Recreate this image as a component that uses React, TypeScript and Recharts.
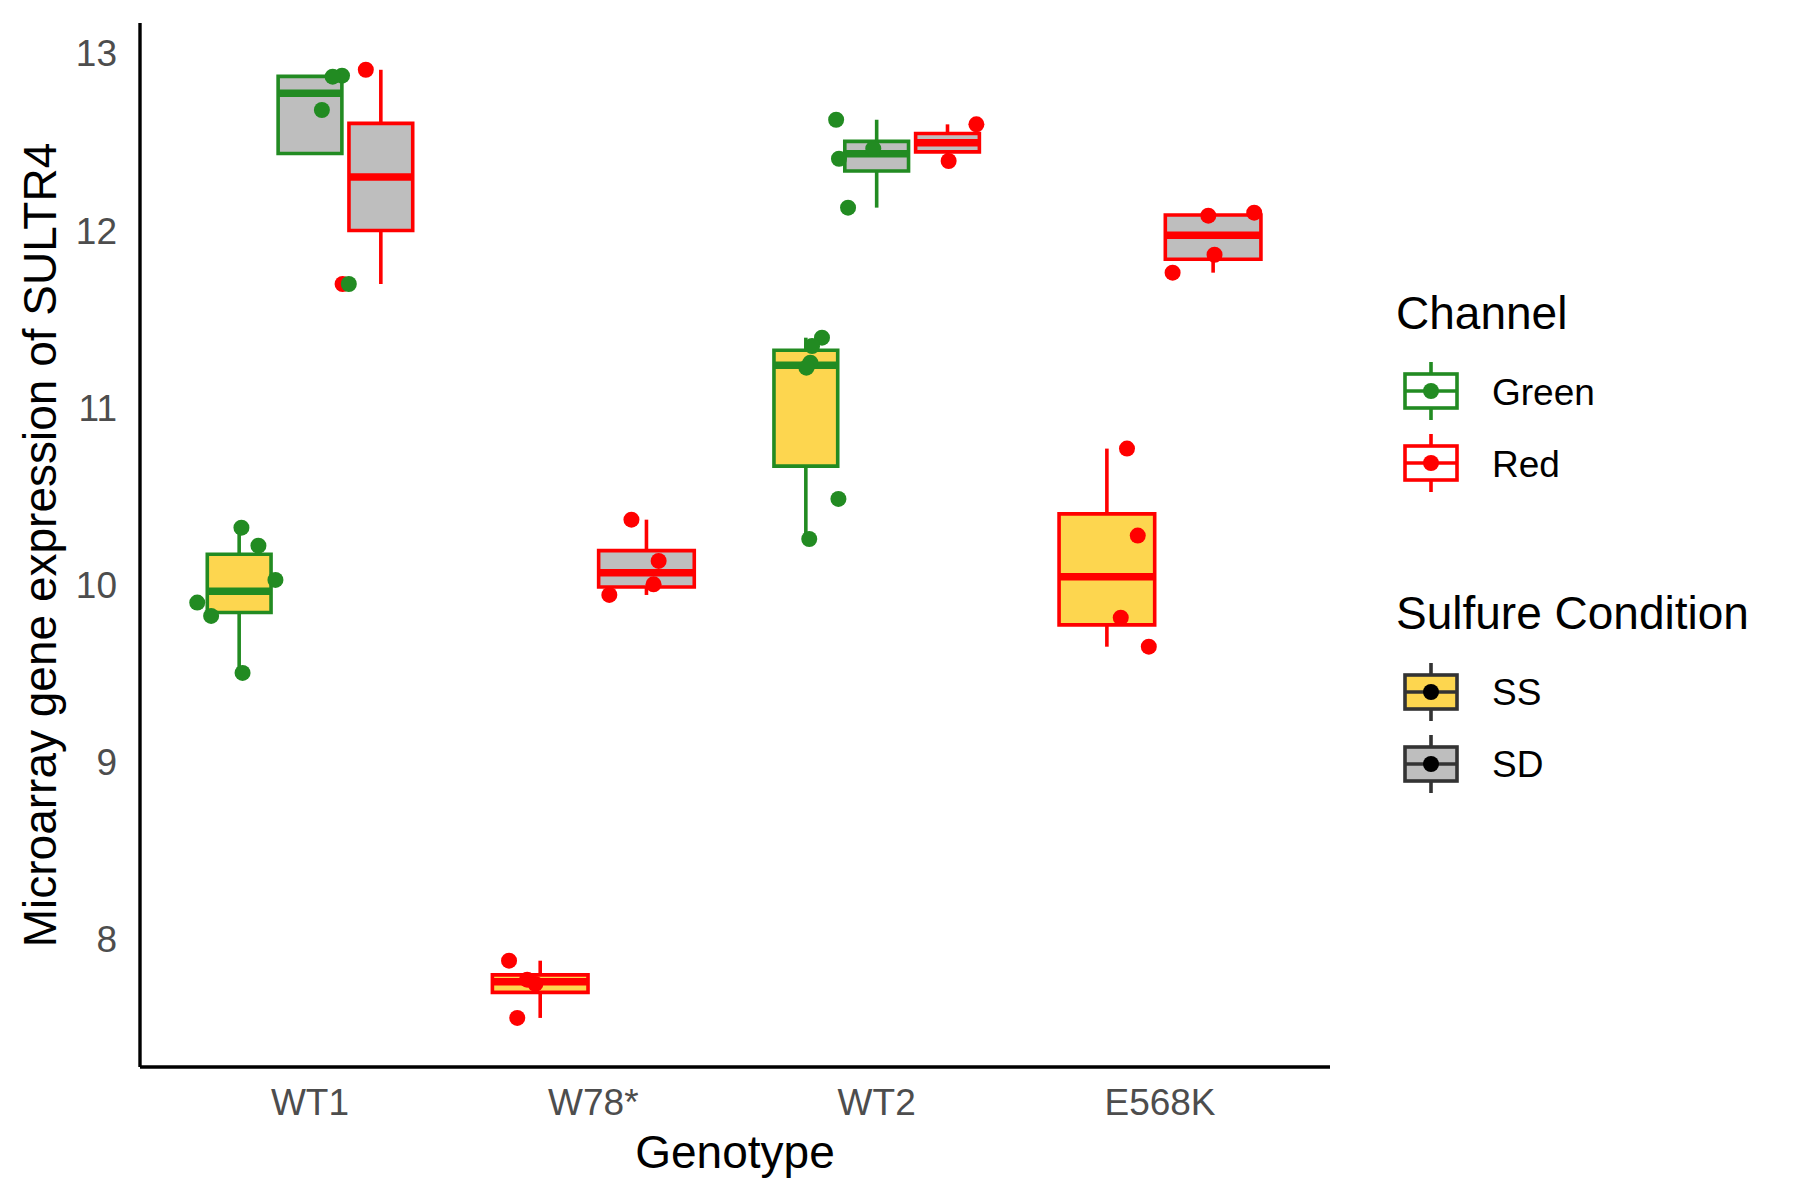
import {
  ComposedChart,
  XAxis,
  YAxis,
  Scatter,
  ReferenceArea,
  ReferenceLine,
  Legend,
} from "recharts";

const FONT = "'Liberation Sans', Arial, sans-serif";

const GENOTYPES = ["WT1", "W78*", "WT2", "E568K"];
const Y_TICKS = [8, 9, 10, 11, 12, 13];

const CHANNEL_COLORS: Record<string, string> = { Green: "#228B22", Red: "#FF0000" };
const CONDITION_FILLS: Record<string, string> = { SS: "#FDD64F", SD: "#BEBEBE" };

// expression values of each box
const wt1SSGreen = [10.323, 10.221, 10.028, 9.9, 9.825, 9.503];
const wt1SDGreen = [12.874, 12.868, 12.68, 11.698];
const wt1SDRed = [12.907, 11.698];
const w78SSRed = [7.879, 7.772, 7.748, 7.556];
const w78SDRed = [10.368, 10.135, 10.003, 9.943];
const wt2SSGreen = [11.395, 11.348, 11.254, 11.226, 10.485, 10.259];
const wt2SDGreen = [12.625, 12.462, 12.405, 12.129];
const wt2SDRed = [12.599, 12.392];
const e568kSSRed = [10.769, 10.278, 9.815, 9.651];
const e568kSDRed = [12.1005, 12.0835, 11.863, 11.762];

// horizontal jitter of the same points (in category units)
const wt1SSGreenJitter = [0.008, 0.068, 0.128, -0.148, -0.099, 0.012];
const wt1SDGreenJitter = [0.113, 0.08, 0.042, 0.137];
const wt1SDRedJitter = [-0.053, -0.135];
const w78SSRedJitter = [-0.11, -0.046, -0.017, -0.081];
const w78SDRedJitter = [-0.053, 0.043, 0.025, -0.131];
const wt2SSGreenJitter = [0.057, 0.022, 0.016, 0.002, 0.115, 0.012];
const wt2SDGreenJitter = [-0.143, -0.012, -0.133, -0.101];
const wt2SDRedJitter = [0.102, 0.004];
const e568kSSRedJitter = [0.071, 0.109, 0.049, 0.148];
const e568kSDRedJitter = [0.145, -0.017, 0.005, -0.143];

const boxes = [
  { genotype: "WT1", condition: "SS", channel: "Green", values: wt1SSGreen, jitter: wt1SSGreenJitter },
  { genotype: "WT1", condition: "SD", channel: "Green", values: wt1SDGreen, jitter: wt1SDGreenJitter },
  { genotype: "WT1", condition: "SD", channel: "Red", values: wt1SDRed, jitter: wt1SDRedJitter },
  { genotype: "W78*", condition: "SS", channel: "Red", values: w78SSRed, jitter: w78SSRedJitter },
  { genotype: "W78*", condition: "SD", channel: "Red", values: w78SDRed, jitter: w78SDRedJitter },
  { genotype: "WT2", condition: "SS", channel: "Green", values: wt2SSGreen, jitter: wt2SSGreenJitter },
  { genotype: "WT2", condition: "SD", channel: "Green", values: wt2SDGreen, jitter: wt2SDGreenJitter },
  { genotype: "WT2", condition: "SD", channel: "Red", values: wt2SDRed, jitter: wt2SDRedJitter },
  { genotype: "E568K", condition: "SS", channel: "Red", values: e568kSSRed, jitter: e568kSSRedJitter },
  { genotype: "E568K", condition: "SD", channel: "Red", values: e568kSDRed, jitter: e568kSDRedJitter },
];

// type 7 quantile, as R does it
function quantile(sorted: number[], p: number) {
  const h = (sorted.length - 1) * p;
  const lo = Math.floor(h);
  const hi = Math.ceil(h);
  return sorted[lo] + (h - lo) * (sorted[hi] - sorted[lo]);
}

function boxStats(values: number[]) {
  const s = [...values].sort((a, b) => a - b);
  const q1 = quantile(s, 0.25);
  const med = quantile(s, 0.5);
  const q3 = quantile(s, 0.75);
  const iqr = q3 - q1;
  const lower = Math.min(...s.filter((v) => v >= q1 - 1.5 * iqr));
  const upper = Math.max(...s.filter((v) => v <= q3 + 1.5 * iqr));
  return { q1, med, q3, lower, upper };
}

// dodge the boxes of one genotype side by side, like position_dodge2
const layout = boxes.map((b) => {
  const same = boxes.filter((o) => o.genotype === b.genotype);
  const n = same.length;
  const idx = same.indexOf(b);
  const slot = 0.75 / n;
  const center = GENOTYPES.indexOf(b.genotype) + 1 - 0.375 + slot * (idx + 0.5);
  return { ...b, center, half: (slot * 0.9) / 2, stats: boxStats(b.values) };
});

const pointsFor = (channel: string) =>
  layout
    .filter((b) => b.channel === channel)
    .flatMap((b) => b.values.map((v, i) => ({ x: b.center + b.jitter[i], y: v })));

const redPoints = pointsFor("Red");
const greenPoints = pointsFor("Green");

function KeyGlyph({ cx, cy, stroke, fill, dot }: { cx: number; cy: number; stroke: string; fill: string; dot: string }) {
  return (
    <g>
      <line x1={cx} x2={cx} y1={cy - 29} y2={cy - 17} stroke={stroke} strokeWidth={3.6} />
      <line x1={cx} x2={cx} y1={cy + 17} y2={cy + 29} stroke={stroke} strokeWidth={3.6} />
      <rect x={cx - 26} y={cy - 17} width={52} height={34} fill={fill} stroke={stroke} strokeWidth={3.6} />
      <line x1={cx - 26} x2={cx + 26} y1={cy} y2={cy} stroke={stroke} strokeWidth={3.6} />
      <circle cx={cx} cy={cy} r={8} fill={dot} />
    </g>
  );
}

function LegendPanel() {
  const title = { fontFamily: FONT, fontSize: 46, fill: "#000" };
  const label = { fontFamily: FONT, fontSize: 37, fill: "#000" };
  return (
    <svg width={410} height={520}>
      <text x={10} y={49} style={title}>Channel</text>
      <KeyGlyph cx={45} cy={111} stroke={CHANNEL_COLORS.Green} fill="#FFFFFF" dot={CHANNEL_COLORS.Green} />
      <text x={106} y={125} style={label}>Green</text>
      <KeyGlyph cx={45} cy={183} stroke={CHANNEL_COLORS.Red} fill="#FFFFFF" dot={CHANNEL_COLORS.Red} />
      <text x={106} y={197} style={label}>Red</text>
      <text x={10} y={349} style={title}>Sulfure Condition</text>
      <KeyGlyph cx={45} cy={412} stroke="#333333" fill={CONDITION_FILLS.SS} dot="#000000" />
      <text x={106} y={425} style={label}>SS</text>
      <KeyGlyph cx={45} cy={484} stroke="#333333" fill={CONDITION_FILLS.SD} dot="#000000" />
      <text x={106} y={497} style={label}>SD</text>
    </svg>
  );
}

const dot = (color: string) => (props: any) =>
  <circle cx={props.cx} cy={props.cy} r={8} fill={color} />;

export default function App() {
  const marks: any[] = [];
  layout.forEach((b, i) => {
    const color = CHANNEL_COLORS[b.channel];
    const { q1, med, q3, lower, upper } = b.stats;
    if (upper > q3) {
      marks.push(
        <ReferenceLine key={`wu${i}`} segment={[{ x: b.center, y: q3 }, { x: b.center, y: upper }]}
          stroke={color} strokeWidth={3.6} />
      );
    }
    if (lower < q1) {
      marks.push(
        <ReferenceLine key={`wl${i}`} segment={[{ x: b.center, y: lower }, { x: b.center, y: q1 }]}
          stroke={color} strokeWidth={3.6} />
      );
    }
    marks.push(
      <ReferenceArea key={`b${i}`} x1={b.center - b.half} x2={b.center + b.half} y1={q1} y2={q3}
        fill={CONDITION_FILLS[b.condition]} fillOpacity={1} stroke={color} strokeWidth={3.6} />
    );
    marks.push(
      <ReferenceLine key={`m${i}`} segment={[{ x: b.center - b.half, y: med }, { x: b.center + b.half, y: med }]}
        stroke={color} strokeWidth={7.5} />
    );
  });

  return (
    <div style={{ position: "absolute", left: 0, top: 0, width: 1800, height: 1200, background: "#fff", fontFamily: FONT }}>
      <ComposedChart width={1800} height={1200} margin={{ top: 23, right: 470, bottom: 0, left: 0 }}>
        <XAxis
          type="number"
          dataKey="x"
          domain={[0.4, 4.6]}
          ticks={[1, 2, 3, 4]}
          interval={0}
          allowDataOverflow
          tickFormatter={(v: number) => GENOTYPES[v - 1]}
          height={133}
          axisLine={{ stroke: "#000", strokeWidth: 3.4 }}
          tickLine={false}
          tickSize={0}
          tickMargin={22}
          tick={{ fill: "#4D4D4D", fontSize: 37, fontFamily: FONT }}
          label={(props: any) => {
            const vb = props.viewBox || { x: 140, y: 1067, width: 1190, height: 133 };
            return (
              <text x={vb.x + vb.width / 2} y={vb.y + 101} textAnchor="middle"
                style={{ fontFamily: FONT, fontSize: 46, fill: "#000" }}>
                Genotype
              </text>
            );
          }}
        />
        <YAxis
          type="number"
          dataKey="y"
          domain={[7.279, 13.171]}
          ticks={Y_TICKS}
          interval={0}
          allowDataOverflow
          width={140}
          axisLine={{ stroke: "#000", strokeWidth: 3.4 }}
          tickLine={false}
          tickSize={0}
          tickMargin={23}
          tick={{ fill: "#4D4D4D", fontSize: 37, fontFamily: FONT }}
          label={(props: any) => {
            const vb = props.viewBox || { x: 0, y: 23, width: 140, height: 1044 };
            const x = vb.x + 56;
            const y = vb.y + vb.height / 2;
            return (
              <text x={x} y={y} textAnchor="middle" transform={`rotate(-90, ${x}, ${y})`}
                style={{ fontFamily: FONT, fontSize: 46, fill: "#000" }}>
                Microarray gene expression of SULTR4
              </text>
            );
          }}
        />
        {marks}
        <Scatter name="Red" data={redPoints} fill={CHANNEL_COLORS.Red} shape={dot(CHANNEL_COLORS.Red)} isAnimationActive={false} />
        <Scatter name="Green" data={greenPoints} fill={CHANNEL_COLORS.Green} shape={dot(CHANNEL_COLORS.Green)} isAnimationActive={false} />
        <Legend
          layout="vertical"
          align="center"
          verticalAlign="middle"
          content={() => <LegendPanel />}
          wrapperStyle={{ left: 1386, top: 280, width: 410, height: 520 }}
        />
      </ComposedChart>
    </div>
  );
}
